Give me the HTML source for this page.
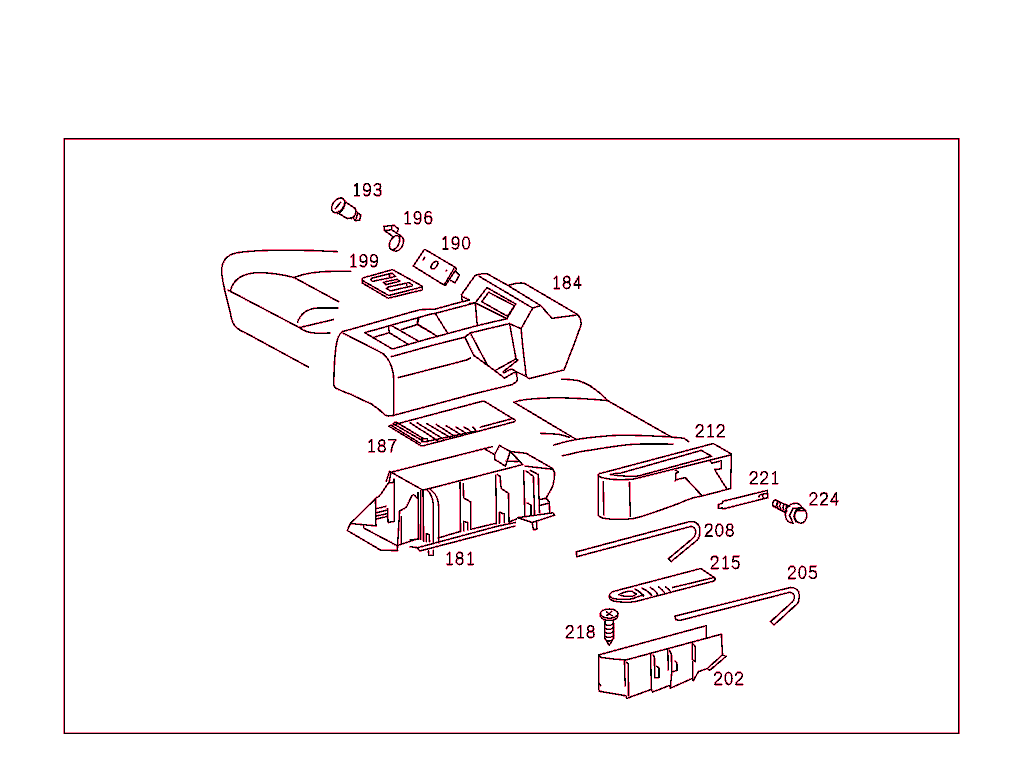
<!DOCTYPE html>
<html><head><meta charset="utf-8"><style>
html,body{margin:0;padding:0;background:#fff;width:1024px;height:783px;overflow:hidden}
svg{position:absolute;left:0;top:0}
.r{fill:none;stroke:#ff1048;stroke-width:2.2;stroke-opacity:.65;shape-rendering:crispEdges;stroke-linejoin:round;stroke-linecap:round}
.k{fill:none;stroke:#000;stroke-width:1.1;shape-rendering:crispEdges;stroke-linejoin:round;stroke-linecap:round}
</style></head><body>
<svg width="1024" height="783" viewBox="0 0 1024 783">
<defs><g id="art">
<!-- left seat -->
<path d="M337,251.6 C300,249.5 255,249.5 236,253 C226,255 222,262 221.6,270.4 C222,285 228,300 231.5,318.7 C232.5,325 238,330 245.8,333 L308.3,367"/>
<path d="M230.6,290 C233,281 240,275 252.9,273 C265,272 280,274 294,277.5 L338.7,301.7"/>
<path d="M294,277.5 C305,273 320,271.3 335,271.3 L350.6,271.3"/>
<path d="M227.9,290 L299.4,327.6 C303,331 310,333 318,333.3 L329.8,333"/>
<path d="M297.6,322.2 C300,315 306,309 317.3,308 L337.8,308"/>
<path d="M299.4,327.6 L333.4,319.6"/>
<!-- console left body -->
<path d="M342.3,331.7 C339,334 337,340 336.1,346 C334.8,355 334,365 333.8,384.6 C334,386 334.5,387.5 335.5,388 C342,391 350,394.2 350.5,394.2 C360,399 371,403.8 371,403.8 C378,408 384.7,414.7 384.7,414.7 C386,416 388.8,416 388.8,416 L393.6,415.4 L470,394.9"/>
<path d="M343.3,333.2 L383.1,353.6 C386,356 389.2,361.3 389.2,361.3 C391,365 393.6,372 393.6,377.8 L393.6,415.4"/>
<path d="M342.3,331.7 L419.9,309.7 L430,309.2"/>
<path d="M364.7,332.7 L430.1,314.3 M364.7,332.7 L392.3,349 L430.1,338.3"/>
<path d="M388.7,326 L389.2,332.7 M373.9,337.3 L389.2,332.7 L407.6,343.9 M391.3,325.5 L418.9,341.4"/>
<path d="M417.8,318.4 L417.3,324.5 M401.5,329.6 L417.3,324.5 L430,331.7"/>
<path d="M391.3,356.7 L430,346 M398.4,377.6 L466.7,360"/>
<!-- console middle -->
<path d="M430,309.2 L435.2,309.1 L462.5,301.6 L469.5,300.1 L461.9,296.4"/>
<path d="M462.2,301.4 L461.6,294.6"/>
<path d="M430.1,314.3 L435.2,313.4 L475.3,302.8"/>
<path d="M470,303.4 L475.3,302.8 L477.3,326"/>
<path d="M435.5,313.75 L447.7,333.3 M418.75,317.7 L417.6,324.3 L437.5,336.4"/>
<path d="M430.1,338.3 L477.3,325.6 L506.9,318.7"/>
<path d="M430,346 L464.8,337.2 L470.3,332.9 L509.1,323.7 L521.1,328.6"/>
<path d="M464.8,337.2 L473.7,355.3 L494.9,370.7 M470.3,332.9 L488,366.2"/>
<path d="M466.7,360 L470.3,358"/>
<!-- tower -->
<path d="M461.6,294.6 L474.9,275.7 C477,274.5 481,273.8 485.6,273.6 C486.5,273.6 487.5,273.9 487.7,274.1 L507.7,285.3 C509,285.3 511,284.5 513.9,283.9 C516,283.3 519,283 521.1,283 C522.5,283 523.8,283.2 524.7,283.5 L576.5,313.9 C578.5,315.5 580,317 580.5,319 C581,321 581.2,323 581,325 L573.8,345 L564,370 L529.7,378.5 C528.3,378.5 527,377.7 526.3,376.5 L522.9,348 L521.1,328.6 L532.7,308.1 L479,276.2"/>
<path d="M507.7,285.3 L540.7,305.6 L532.7,308.1 M540.7,305.6 L551.9,318.3 L575.6,315.2"/>
<path d="M475.3,302.8 L487,287.6 L515.7,304 L506.9,318.7 L475.3,302.8"/>
<path d="M481.7,301.7 L488.7,292.3 L514.5,305.8 L507.5,316.3 Z"/>
<path d="M509.5,323.3 L516,358.7"/>
<path d="M470,394.9 L511.9,384.6 C514,383.5 515.5,382.5 516.5,381.5 C517.5,380 517.5,379 517.3,378 L515.8,371.5 L526.3,376.5"/>
<path d="M515.8,359 L494.9,370.7 L504.5,378.1 L515.8,371.5 L511.9,369 C509,369.8 506,371.5 504.5,372.8 C503.5,372.6 503,372 503.5,371.5 L518,360 L515.8,359"/>
<!-- right seat -->
<path d="M561.5,379.1 C568,379.3 573,379.8 578.1,380.6 C586,383 590,385.5 593.75,388.4 C600,393 604,396 607.4,400.4"/>
<path d="M514,402.3 C518,400.5 523,399.8 529.3,399.2 C540,398.3 550,397.8 558.6,397.8 C575,398 590,399 607.4,400.5 L671.9,437.3 C676,437.5 680,437.8 683.6,438.2 C685.5,439 687,440.2 688.5,441.6"/>
<path d="M514,402.3 L575.2,438.8"/>
<path d="M541,433.4 C547,433.6 553,433.9 558.6,434.3 C562,435 566,436 569.3,437.3"/>
<path d="M553.7,445.1 C562,442.5 570,440.5 578.1,439.2 C590,437.3 605,436 617.2,435.3 C635,435 655,436 671.9,436.9"/>
<path d="M562.5,455.8 C575,452.5 585,450.5 597.7,449 C610,447 625,444.6 636.7,444.1 C650,443.8 660,444 672.9,444.1"/>
<!-- mat 187 -->
<path d="M388.7,426.1 L482.5,401.2 C483.5,401 484.5,401.2 485.3,401.8 L515.4,420.3 L514.7,421.7 L423.8,445.6 C422,446 420.5,445.7 419.6,444.9 Z"/>
<path d="M393.5,423.8 L422.7,440.9 M391.5,425.5 L420.3,443.3 M396.5,422.2 L423.4,438.6"/>
<path d="M393.5,423.8 C394,422.5 395.5,421.8 396.5,422.2 M422,438.6 L427.3,438.6 L427.3,441.7 L421.9,441.7 Z"/>
<path d="M427.3,441.3 L475.8,431.2 M480.5,427.1 L511.3,418.9"/>
<path d="M410.2,422.9 L437.5,440.5 M417.2,422.9 L443.75,439.3 M427,423.7 L450,437.4 M436.3,424.5 L454.7,436.2 M446.1,425.7 L461,434.7 M456.3,427.2 L466.4,433.5 M464,427.2 C467,428.5 470,430.5 471.9,432.3 M472.7,427.2 C474.5,428 475.5,429.5 475.8,431.5"/>
<!-- tray 181 -->
<path d="M390.9,472.3 L492.1,446.7"/>
<path d="M386.4,481 L389.6,471.4 L390.9,472.3 L389.3,481.9 L390.2,482.9 L392.8,482.9 L394.1,479.4 L394.4,521.3 L388.1,522.5 L387.5,508.7"/>
<path d="M392.5,473 L423,490.2 L522.5,464.6"/>
<path d="M389.3,481.9 L379.5,496 L375.5,498.3 L376,525.9"/>
<path d="M375.5,498.9 L350.7,523 L347.3,530.5 L380.6,550.1 L397.9,550.6"/>
<path d="M350.7,523.6 L376,525.9 M363.4,525.3 L364,528.2 L396.7,545.5"/>
<path d="M376,508.7 L385.8,506.4 M376,512.8 L386,510.5 M376,516.1 L386.3,513.8 M376.6,519 L386.6,516.6"/>
<path d="M399.6,511 C402,509.5 404.5,508.5 405.9,507.5 C408,505 410,499 411.7,496 C412.5,495 413.3,494.8 414,494.9 C415,495.2 415.5,496 415.7,496.6 L417.4,498.3 M418,492.6 L418.6,538.6"/>
<path d="M399.6,511 L397.3,550 M401.3,516.7 L401.3,543.2"/>
<path d="M397.3,545.5 L418.6,538.6 M418.7,539 L410,540.1"/>
<path d="M423,490.7 L423.6,541.2 M420.9,490.9 L420.9,539.5"/>
<path d="M427.4,490.2 C429.5,492 430.8,494.5 431.7,496.7 C432.8,499.5 433.3,502.5 433.3,505.4 L433.3,543.4"/>
<path d="M430.6,489.7 C433,491.5 435.5,494 436.6,496.7 C438,500 438.8,504 438.8,507.6 L438.8,542.9"/>
<path d="M426.3,533.6 L426.3,541.5 M426.3,533.6 L429,534.5 L429.5,541.5"/>
<path d="M438.2,538 L460,531.5 M470.8,529.3 L496.4,523.2 M509.1,522 L516.4,519"/>
<path d="M410,546.7 L417.6,547.7 L496.4,526.5 L515.2,522.5 M419.8,551 L496.4,531 L515,526"/>
<path d="M417.6,547.7 L419.8,551"/>
<path d="M428.5,551 L428.8,555.3 L433.3,555.3 L433.3,550.5"/>
<path d="M460,482 L460.5,531.5 M463.2,483.7 L463.7,497.8 L470.8,502.1 L470.8,529.3 M463.7,521.5 L463.7,531 M463.7,521.5 L467.8,522.5 L467.8,530"/>
<path d="M495.8,475.2 L496.4,523.7 M497.6,474.6 L500,476.4 L501.2,488.5 L508.5,493.4 L509.1,523.7 M499.4,512.2 L499.4,523 M499.4,512.2 L504.3,514 L504.3,522.5"/>
<path d="M523.7,471 L524.9,515.2 M526.1,471 L533.4,476.4 L534.6,515.2 M530.4,470.3 L538.3,474.6 L539.5,512.8 M527.3,503.1 L531,505 L531,515"/>
<path d="M484.9,449.1 L494.6,454.6 L499.4,445.5 L510.3,451.5 L505.5,466.1 L494.8,459.5 L494.6,454.6 M510.3,451.5 L522.5,464.3 M506,461.2 L518,461.5"/>
<path d="M510.3,451.5 L526.1,453.3 L551.6,467.9 C553.5,469.5 554.6,471.5 554.6,474 C554.5,478 553.8,482 552.8,486.1 L546.1,498.3"/>
<path d="M524.9,466.1 L551.6,469.1"/>
<path d="M539.5,499.5 L546.1,498.3 L549.2,501.9 L549.8,512.8 M539.5,505.5 L549.2,503"/>
<path d="M517.6,517.7 L552.8,512.8 L554.6,515.2 L532.2,522.5 L517.6,517.7 M532.2,522.5 L533.4,529.8 L537,529.2 L536.5,521"/>
<!-- 212 holder -->
<path d="M598.1,474.5 C599,473.5 600.5,473.1 601.7,473.1 L712.3,443.8 L713.8,443.8 L731.4,454 L730.6,488.5 L702.8,495.8 C699,496.5 695,497.5 692.5,498 C687,500 682,502 677.9,503.8 C668,507.5 658,511 648.6,514.1 C642,516.5 638,517.5 634,518.5 C626,519.5 618,519.5 612,519.2 C607,519 604,518.5 601.7,517.8 C599.5,517 598.3,515.5 598.1,514.1 Z"/>
<path d="M598.1,475.3 C600,477 602,478 604.6,478.2 C609,479.3 614,479.7 619.3,479.7 C625,479.7 630,479.5 634,479 L731.4,454.8"/>
<path d="M610.5,474.5 C614,473.6 617,473.3 620,473.3 L701.3,450.4 L711.6,456.2 L638.3,476 C630,476.5 618,476 610.5,474.5 Z"/>
<path d="M603.2,481.9 L603.9,514.8 M629.5,482.6 L630.3,516.3"/>
<path d="M675.5,470.1 L678.3,472 L675.8,473.25 L675.8,480.1 L674.9,481.1 M675.8,479.8 L685.2,477.6 L702,495.75"/>
<path d="M710.5,461.4 L711.75,463.25 L721.1,460.75 L721.1,468.9 L714.6,469.5 L726.75,488.9"/>
<!-- 221 pin -->
<path d="M723.1,501.2 L767.1,490.5 L767.9,497.7 L723.1,509 L722.5,508 L718.5,508.2 L718.5,504.5 L722.5,503.1 Z"/>
<path d="M759,496.7 C759.5,495.5 760.5,494.5 761.5,494.3 L766.6,493.7 M762.3,494.5 L763.3,497.7"/>
<!-- 224 bolt -->
<path d="M775.1,500.1 L789.5,506.3 M773.5,506.3 L785.6,512.6"/>
<ellipse cx="775.2" cy="503.3" rx="2.4" ry="3.3" transform="rotate(20 775.2 503.3)"/>
<path d="M778.2,501.4 C776.5,502.5 776.3,505.5 777.7,507.2 M781.3,502.8 C779.6,504 779.4,507 780.8,508.7 M784.4,504.2 C782.7,505.4 782.5,508.4 783.9,510.1 M787.4,505.6 C785.7,506.8 785.5,509.8 786.9,511.5"/>
<path d="M785.4,514.5 C785.5,509.5 788,505.5 791.1,504.4 C793,503.4 795,503.2 797.3,503.4 C799,504 800.5,505 801.3,506.3"/>
<path d="M785.4,514.5 C785.5,518 787,521 789.5,522.3 C791,523 792,523.2 793.4,523.1"/>
<ellipse cx="800.6" cy="515.4" rx="6.2" ry="7.8"/>
<path d="M793,508.3 L801.3,507.9 L805.2,510.6 M796.6,510.6 L793.8,516.5 L795.8,521.6 M789.5,515.3 L793,508.3 M789.5,515.3 L792.5,522 M796.6,510.6 L801.3,507.9 M796.6,510.6 L805,510.8"/>
<!-- 208 rod -->
<path d="M576.2,551.9 L689,521.8 C692,521.5 694.5,521.8 695.8,522.5 C698.5,524.5 700,527 699.9,530 C700,534 699.5,537 697.8,539.6 L671.2,561.5 L668.4,558.8 L693.7,537.6 C695,536 696,534 695.8,531.4 C695.5,529.5 694.7,528 693.7,527.3 C692.5,526.6 691.5,526.4 690.3,526.6 L576.8,556.7 L576.2,551.9"/>
<!-- 215 plate -->
<path d="M612.9,591.6 L699.6,568.8 L701.4,568.8 L714.3,577.6 L715.4,579.3 L713.7,581.1 L635.2,601.6 C631,602.2 627,602.3 623.4,602.2 C618,601.9 614,601.3 611.7,600.4 C610,599.5 609.3,598 609.4,596.3 C609.5,594.8 610,594 610.5,593.4 C611.2,592.5 612,592 612.9,591.6 Z"/>
<path d="M609.4,596.3 C611,597.8 612.5,598.5 614,598.7 C619,599.5 624,599.5 629.3,599.3 C633,599 636,597.5 638.7,596.3 L643.5,595 M672.7,587.5 L713.7,577.6"/>
<path d="M618.8,594.6 C623,592.5 628,591 631.6,591.1 L636.3,594 C635,595.8 633,596.3 630,596.4 C625,596.4 621,595.8 618.8,594.6 Z"/>
<path d="M635.2,589.3 C639,591 641.5,593 643.4,596.3 M642.2,588.1 C646,590 649.5,592.5 651.6,595.2 M650.4,587.5 C653.5,589 656,591.5 657.4,594 M658.6,587 C661,588.5 663,590.5 664.5,592.8 M665.6,587 C667.5,588 669,589.5 670.3,591.1"/>
<!-- 205 rod -->
<path d="M674.8,616.2 L790.3,587.5 C793,587.5 795.5,588.3 797.2,589.6 C798.8,591.5 799.4,594 799.2,596.4 C799.2,599 798.8,601.5 797.8,603.2 L773.9,625.1 L770.5,621.7 L792.4,601.9 C793.6,600.5 794.4,599 794.4,597.8 C794.4,596 793.9,594.5 793.1,593.7 C792,592.5 791,592.3 789.6,592.3 L680.3,620.3 L676,619.9 L674.8,616.2"/>
<!-- 218 screw -->
<ellipse cx="609.2" cy="613.6" rx="8.8" ry="4.6"/>
<path d="M600.4,613.6 L600.6,616.5 C601.5,619 605,620.4 609.2,620.4 C613.5,620.4 617,619 617.8,616.5 L618,613.6"/>
<path d="M606.5,612 L612,615.5 M611.5,611.5 L607,615.5"/>
<path d="M605,621 L604.8,638 L609.2,645.3 L613.6,638 L613.4,621"/>
<path d="M605,624 C607,626 611,626 613.4,623.5 M605,628 C607,630 611,630 613.4,627.5 M605,632 C607,634 611,634 613.4,631.5 M605,636 C607,638 611,638 613.6,635.5 M606,640 C608,641.5 610.5,641.5 612.5,639.5"/>
<!-- 202 tray -->
<path d="M598.9,654.9 L706.1,625.7 L706.1,637.6"/>
<path d="M598.9,654.9 C599.5,656.5 600.5,657.3 601.5,657.5 C610,658.8 618,659.5 625.8,660 L721.4,634.2 L722.5,654.8 L726,656.4 L709.9,670.2 L707.2,668.6 L722.5,654.8"/>
<path d="M598.9,654.9 L598.9,689.4 C599,690.5 599.3,691 599.6,691.3 L625.8,695.8 L627,698.3 L651.3,689.4 L652.6,692 L669.2,685.6 L670.5,688.1 L692.2,678.5 L693.4,680.5 L698.4,671.7 L707.2,668.6"/>
<path d="M599,683.5 L600.8,685.5"/>
<path d="M624.5,660 L625.2,686 M627,662.5 C628.5,663.5 628.3,664.5 628.3,665 L628.5,695.5"/>
<path d="M650.7,653.6 L651.3,689.4 M652.8,655 C654,656 654.3,657 654.5,658 L654.8,678 L659,677.5 L659,670 C659.5,668 658.5,667 657,666.5"/>
<path d="M667.9,649.8 L668.2,670 M669.5,650.5 C670.5,652 671.5,654 671.5,655.5 L671.8,672 L677,670.5 L677,664 C677,662 676,661.5 675,661"/>
<path d="M671.8,672 L670.5,686"/>
<path d="M692.3,642.6 L692.3,659.4 L695.3,661.7 L695.3,647.2 C694.8,645.8 694,645 693.3,644.5 M692.6,662 L692.6,680"/>
<!-- 193 connector -->
<ellipse cx="338.2" cy="205.3" rx="5.3" ry="8.3" transform="rotate(38 338.2 205.3)"/>
<path d="M335.5,208.5 L340.5,202.5"/>
<path d="M342.4,198.4 C344.8,199.8 345.5,202.5 344.6,205.5 C343.5,209 341,212 338,213.5"/>
<path d="M345.8,202.2 L354.5,207.9 M339.3,213.8 L347.3,218.6 L351.4,217.9"/>
<path d="M354.5,207.9 C355.8,209.5 356.2,212 355.5,214 C354.8,216 353.5,217.5 351.4,218.6"/>
<path d="M356.3,211.5 L360.8,215.2 L359.6,220 L356,220.6 C354.8,220.5 354,219.5 353.8,218.5 M357.5,213.5 L355.8,219.8"/>
<!-- 196 clip -->
<path d="M384,226.3 L393.9,225.4 L398.4,228.5 L397.5,231.6 M384,226.3 L384.5,230.5 L391.6,229.8 L391.6,226 M384.5,230.5 L393.5,237 M391.6,229.8 L400.5,235.8"/>
<ellipse cx="394.5" cy="242.7" rx="4.4" ry="7.5" transform="rotate(27 394.5 242.7)"/>
<path d="M399.8,236.2 C402.5,236.5 403.8,238.5 403.5,241.5 C403.2,244.5 401.5,248 399,250 C397,251.3 394.5,251.3 392.8,250.2"/>
<!-- 190 plate -->
<path d="M413.2,266 L423.8,250.3 C424.2,249.7 424.8,249.5 425.5,249.7 L454,266.6 C455.3,267.4 456,268.2 456.4,269.2 L445.6,285 C445,285.2 444.2,285.2 443.6,284.8 L413.2,266 Z"/>
<path d="M453.9,268.7 L444.6,284.4"/>
<path d="M455.9,271.6 L459.5,275.2 L455,282.8 L451,280.6"/>
<ellipse cx="434.5" cy="265.1" rx="2.4" ry="4.4" transform="rotate(40 434.5 265.1)"/>
<path d="M423.2,259.8 L424.6,257.6 M446,271.2 L446.8,270.4"/>
<!-- 199 grille -->
<path d="M362.1,279 C362.5,278 363.5,277.7 364.5,277.5 L391,270 C392,269.7 393,269.8 393.8,270.3 L421.2,285.6 C421.8,286 421.8,286.8 421.2,287.2 L390,295.2 C389,295.4 388.3,295.3 387.8,295 L363,280.8 C362.3,280.4 362,279.7 362.1,279 Z"/>
<path d="M362.1,279.5 L362.4,283.1 L388.1,298.2 L422.3,290 L422,286.5"/>
<path d="M370.9,279.3 C371,278.6 371.5,278.2 372,278.1 L389.4,273.8 L392.5,273.3 L395.5,276.3 L390.4,277.7 L372.8,281.3 C372,281.3 371.2,280.5 370.9,279.3 Z M389.4,273.8 L389.6,277.5"/>
<path d="M383.6,282.6 L386,281.6 L397.2,279.4 L399.7,280.9 L398.7,281.6 L386,284.6 Z"/>
<path d="M386.5,288.5 L388.4,287 L406.5,283.1 L409,282.6 L412.4,285 L411.9,286 L390.4,290.9 Z M406.5,283.1 L407,286"/>

<!-- labels -->
<g transform="translate(352.65,183.70) scale(1,1.06)"><path d="M2.0,2.0 L4.4,0 L4.4,11.3 M2.0,11.3 L6.8,11.3"/></g><g transform="translate(363.15,183.70) scale(1,1.06)"><path d="M0.9,10.1 C1.5,10.9 2.5,11.3 3.6,11.3 C5.8,11.3 7.1,9 7.1,5.3 C7.1,1.8 5.8,0 3.8,0 C1.8,0 0.55,1.5 0.55,3.6 C0.55,5.7 1.8,7 3.7,7 C5.2,7 6.4,6.2 7.0,4.9"/></g><g transform="translate(373.65,183.70) scale(1,1.06)"><path d="M0.8,1.6 C1.5,0.5 2.6,0 3.9,0 C5.7,0 6.9,1.1 6.9,2.8 C6.9,4.4 5.7,5.4 3.8,5.4 L3,5.4 M3.8,5.4 C5.9,5.4 7.25,6.6 7.25,8.4 C7.25,10.2 5.8,11.3 3.8,11.3 C2.2,11.3 1,10.6 0.5,9.4"/></g>
<g transform="translate(403.35,211.70) scale(1,1.06)"><path d="M2.0,2.0 L4.4,0 L4.4,11.3 M2.0,11.3 L6.8,11.3"/></g><g transform="translate(413.85,211.70) scale(1,1.06)"><path d="M0.9,10.1 C1.5,10.9 2.5,11.3 3.6,11.3 C5.8,11.3 7.1,9 7.1,5.3 C7.1,1.8 5.8,0 3.8,0 C1.8,0 0.55,1.5 0.55,3.6 C0.55,5.7 1.8,7 3.7,7 C5.2,7 6.4,6.2 7.0,4.9"/></g><g transform="translate(424.35,211.70) scale(1,1.06)"><path d="M6.8,1.2 C6.2,0.4 5.2,0 4.1,0 C1.9,0 0.6,2.3 0.6,6 C0.6,9.5 1.9,11.3 3.9,11.3 C5.9,11.3 7.25,9.8 7.25,7.6 C7.25,5.5 5.9,4.2 4.0,4.2 C2.5,4.2 1.3,5 0.7,6.4"/></g>
<g transform="translate(441.25,237.00) scale(1,1.06)"><path d="M2.0,2.0 L4.4,0 L4.4,11.3 M2.0,11.3 L6.8,11.3"/></g><g transform="translate(451.75,237.00) scale(1,1.06)"><path d="M0.9,10.1 C1.5,10.9 2.5,11.3 3.6,11.3 C5.8,11.3 7.1,9 7.1,5.3 C7.1,1.8 5.8,0 3.8,0 C1.8,0 0.55,1.5 0.55,3.6 C0.55,5.7 1.8,7 3.7,7 C5.2,7 6.4,6.2 7.0,4.9"/></g><g transform="translate(462.25,237.00) scale(1,1.06)"><ellipse cx="3.9" cy="5.65" rx="3.4" ry="5.65"/></g>
<g transform="translate(349.15,254.70) scale(1,1.06)"><path d="M2.0,2.0 L4.4,0 L4.4,11.3 M2.0,11.3 L6.8,11.3"/></g><g transform="translate(359.65,254.70) scale(1,1.06)"><path d="M0.9,10.1 C1.5,10.9 2.5,11.3 3.6,11.3 C5.8,11.3 7.1,9 7.1,5.3 C7.1,1.8 5.8,0 3.8,0 C1.8,0 0.55,1.5 0.55,3.6 C0.55,5.7 1.8,7 3.7,7 C5.2,7 6.4,6.2 7.0,4.9"/></g><g transform="translate(370.15,254.70) scale(1,1.06)"><path d="M0.9,10.1 C1.5,10.9 2.5,11.3 3.6,11.3 C5.8,11.3 7.1,9 7.1,5.3 C7.1,1.8 5.8,0 3.8,0 C1.8,0 0.55,1.5 0.55,3.6 C0.55,5.7 1.8,7 3.7,7 C5.2,7 6.4,6.2 7.0,4.9"/></g>
<g transform="translate(552.35,276.50) scale(1,1.06)"><path d="M2.0,2.0 L4.4,0 L4.4,11.3 M2.0,11.3 L6.8,11.3"/></g><g transform="translate(562.85,276.50) scale(1,1.06)"><ellipse cx="3.9" cy="2.75" rx="2.9" ry="2.75"/><ellipse cx="3.9" cy="8.3" rx="3.35" ry="3.0"/></g><g transform="translate(573.35,276.50) scale(1,1.06)"><path d="M5.6,11.3 L5.6,0 L0.55,8 L7.25,8"/></g>
<g transform="translate(367.35,439.90) scale(1,1.06)"><path d="M2.0,2.0 L4.4,0 L4.4,11.3 M2.0,11.3 L6.8,11.3"/></g><g transform="translate(377.85,439.90) scale(1,1.06)"><ellipse cx="3.9" cy="2.75" rx="2.9" ry="2.75"/><ellipse cx="3.9" cy="8.3" rx="3.35" ry="3.0"/></g><g transform="translate(388.35,439.90) scale(1,1.06)"><path d="M0.55,0 L7.25,0 C5,3 3.2,6.8 2.8,11.3"/></g>
<g transform="translate(445.25,552.40) scale(1,1.06)"><path d="M2.0,2.0 L4.4,0 L4.4,11.3 M2.0,11.3 L6.8,11.3"/></g><g transform="translate(455.75,552.40) scale(1,1.06)"><ellipse cx="3.9" cy="2.75" rx="2.9" ry="2.75"/><ellipse cx="3.9" cy="8.3" rx="3.35" ry="3.0"/></g><g transform="translate(466.25,552.40) scale(1,1.06)"><path d="M2.0,2.0 L4.4,0 L4.4,11.3 M2.0,11.3 L6.8,11.3"/></g>
<g transform="translate(695.80,424.80) scale(1,1.06)"><path d="M0.6,2.8 C0.9,1 2.2,0 3.9,0 C5.8,0 7.1,1.2 7.1,3 C7.1,4.6 6.2,5.6 4.8,6.6 C2.8,8 1.0,9.5 0.6,11.3 L7.25,11.3"/></g><g transform="translate(706.30,424.80) scale(1,1.06)"><path d="M2.0,2.0 L4.4,0 L4.4,11.3 M2.0,11.3 L6.8,11.3"/></g><g transform="translate(716.80,424.80) scale(1,1.06)"><path d="M0.6,2.8 C0.9,1 2.2,0 3.9,0 C5.8,0 7.1,1.2 7.1,3 C7.1,4.6 6.2,5.6 4.8,6.6 C2.8,8 1.0,9.5 0.6,11.3 L7.25,11.3"/></g>
<g transform="translate(749.80,471.80) scale(1,1.06)"><path d="M0.6,2.8 C0.9,1 2.2,0 3.9,0 C5.8,0 7.1,1.2 7.1,3 C7.1,4.6 6.2,5.6 4.8,6.6 C2.8,8 1.0,9.5 0.6,11.3 L7.25,11.3"/></g><g transform="translate(760.30,471.80) scale(1,1.06)"><path d="M0.6,2.8 C0.9,1 2.2,0 3.9,0 C5.8,0 7.1,1.2 7.1,3 C7.1,4.6 6.2,5.6 4.8,6.6 C2.8,8 1.0,9.5 0.6,11.3 L7.25,11.3"/></g><g transform="translate(770.80,471.80) scale(1,1.06)"><path d="M2.0,2.0 L4.4,0 L4.4,11.3 M2.0,11.3 L6.8,11.3"/></g>
<g transform="translate(809.50,492.90) scale(1,1.06)"><path d="M0.6,2.8 C0.9,1 2.2,0 3.9,0 C5.8,0 7.1,1.2 7.1,3 C7.1,4.6 6.2,5.6 4.8,6.6 C2.8,8 1.0,9.5 0.6,11.3 L7.25,11.3"/></g><g transform="translate(820.00,492.90) scale(1,1.06)"><path d="M0.6,2.8 C0.9,1 2.2,0 3.9,0 C5.8,0 7.1,1.2 7.1,3 C7.1,4.6 6.2,5.6 4.8,6.6 C2.8,8 1.0,9.5 0.6,11.3 L7.25,11.3"/></g><g transform="translate(830.50,492.90) scale(1,1.06)"><path d="M5.6,11.3 L5.6,0 L0.55,8 L7.25,8"/></g>
<g transform="translate(704.90,524.10) scale(1,1.06)"><path d="M0.6,2.8 C0.9,1 2.2,0 3.9,0 C5.8,0 7.1,1.2 7.1,3 C7.1,4.6 6.2,5.6 4.8,6.6 C2.8,8 1.0,9.5 0.6,11.3 L7.25,11.3"/></g><g transform="translate(715.40,524.10) scale(1,1.06)"><ellipse cx="3.9" cy="5.65" rx="3.4" ry="5.65"/></g><g transform="translate(725.90,524.10) scale(1,1.06)"><ellipse cx="3.9" cy="2.75" rx="2.9" ry="2.75"/><ellipse cx="3.9" cy="8.3" rx="3.35" ry="3.0"/></g>
<g transform="translate(710.80,556.40) scale(1,1.06)"><path d="M0.6,2.8 C0.9,1 2.2,0 3.9,0 C5.8,0 7.1,1.2 7.1,3 C7.1,4.6 6.2,5.6 4.8,6.6 C2.8,8 1.0,9.5 0.6,11.3 L7.25,11.3"/></g><g transform="translate(721.30,556.40) scale(1,1.06)"><path d="M2.0,2.0 L4.4,0 L4.4,11.3 M2.0,11.3 L6.8,11.3"/></g><g transform="translate(731.80,556.40) scale(1,1.06)"><path d="M6.9,0 L1.5,0 L1.0,5.2 C1.9,4.5 2.9,4.2 3.9,4.2 C5.9,4.2 7.25,5.6 7.25,7.7 C7.25,9.9 5.8,11.3 3.8,11.3 C2.2,11.3 1,10.6 0.5,9.4"/></g>
<g transform="translate(788.00,566.40) scale(1,1.06)"><path d="M0.6,2.8 C0.9,1 2.2,0 3.9,0 C5.8,0 7.1,1.2 7.1,3 C7.1,4.6 6.2,5.6 4.8,6.6 C2.8,8 1.0,9.5 0.6,11.3 L7.25,11.3"/></g><g transform="translate(798.50,566.40) scale(1,1.06)"><ellipse cx="3.9" cy="5.65" rx="3.4" ry="5.65"/></g><g transform="translate(809.00,566.40) scale(1,1.06)"><path d="M6.9,0 L1.5,0 L1.0,5.2 C1.9,4.5 2.9,4.2 3.9,4.2 C5.9,4.2 7.25,5.6 7.25,7.7 C7.25,9.9 5.8,11.3 3.8,11.3 C2.2,11.3 1,10.6 0.5,9.4"/></g>
<g transform="translate(565.80,625.70) scale(1,1.06)"><path d="M0.6,2.8 C0.9,1 2.2,0 3.9,0 C5.8,0 7.1,1.2 7.1,3 C7.1,4.6 6.2,5.6 4.8,6.6 C2.8,8 1.0,9.5 0.6,11.3 L7.25,11.3"/></g><g transform="translate(576.30,625.70) scale(1,1.06)"><path d="M2.0,2.0 L4.4,0 L4.4,11.3 M2.0,11.3 L6.8,11.3"/></g><g transform="translate(586.80,625.70) scale(1,1.06)"><ellipse cx="3.9" cy="2.75" rx="2.9" ry="2.75"/><ellipse cx="3.9" cy="8.3" rx="3.35" ry="3.0"/></g>
<g transform="translate(714.20,672.40) scale(1,1.06)"><path d="M0.6,2.8 C0.9,1 2.2,0 3.9,0 C5.8,0 7.1,1.2 7.1,3 C7.1,4.6 6.2,5.6 4.8,6.6 C2.8,8 1.0,9.5 0.6,11.3 L7.25,11.3"/></g><g transform="translate(724.70,672.40) scale(1,1.06)"><ellipse cx="3.9" cy="5.65" rx="3.4" ry="5.65"/></g><g transform="translate(735.20,672.40) scale(1,1.06)"><path d="M0.6,2.8 C0.9,1 2.2,0 3.9,0 C5.8,0 7.1,1.2 7.1,3 C7.1,4.6 6.2,5.6 4.8,6.6 C2.8,8 1.0,9.5 0.6,11.3 L7.25,11.3"/></g>
</g></defs>
<rect x="64" y="138" width="895" height="1" fill="#000"/><rect x="64" y="138" width="1" height="596" fill="#000"/><rect x="958" y="138" width="1" height="596" fill="#000"/><rect x="64" y="733" width="895" height="1" fill="#000"/>
<rect x="65" y="139" width="893" height="1" fill="#ff2a5a"/><rect x="63" y="138" width="1" height="596" fill="#ff5a80"/><rect x="959" y="138" width="1" height="596" fill="#ff2a5a"/><rect x="65" y="732" width="893" height="1" fill="#ff7a9a"/>
<use href="#art" class="r"/>
<use href="#art" class="k"/>
</svg>

</body></html>
